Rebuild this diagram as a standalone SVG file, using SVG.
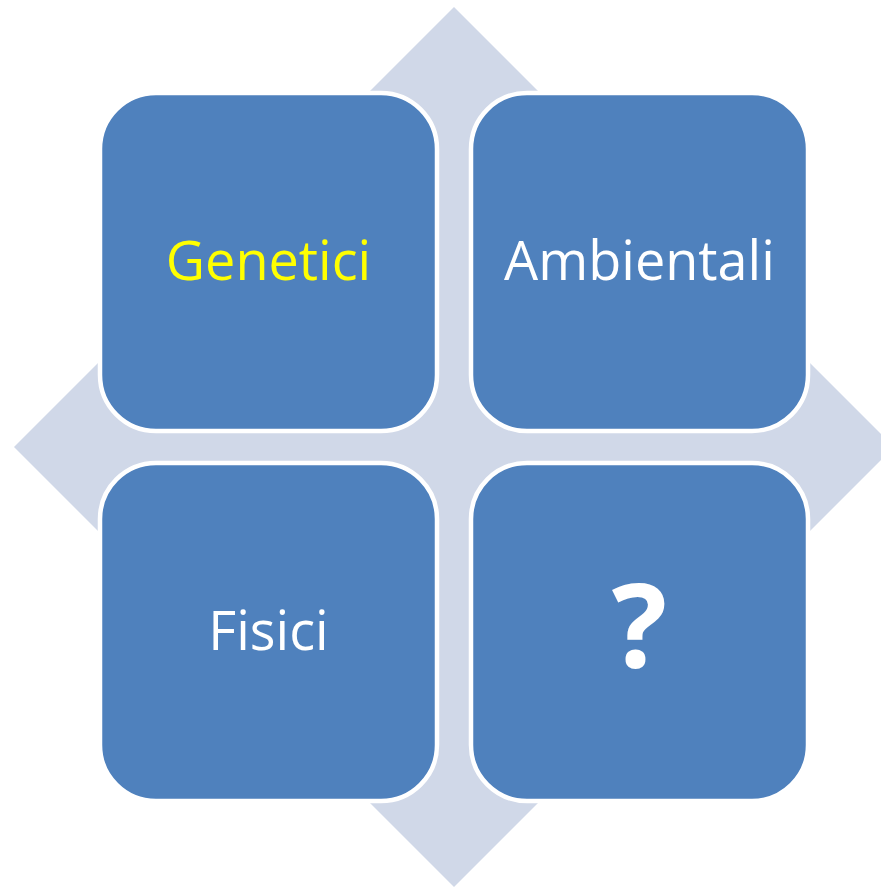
<svg xmlns="http://www.w3.org/2000/svg" width="881" height="887" viewBox="0 0 881 887">
<style>
.box{fill:#4F81BD;stroke:#FFFFFF;stroke-width:4.5}
.lbl{font-family:"Open Sans","Noto Sans","DejaVu Sans",sans-serif;font-size:54px;fill:#FFFFFF;text-anchor:middle}
</style>
<rect width="881" height="887" fill="#FFFFFF"/>
<g id="background">
<polygon points="454,7 894,447 454,887 14,447" fill="#D0D8E8"/>
</g>
<g id="connectors"></g>
<g id="node-genetici">
<rect class="box" x="100" y="93" width="337" height="338" rx="56" ry="56"/>
<text class="lbl" x="268.5" y="280" style="fill:#FFFF00">Genetici</text>
</g>
<g id="node-ambientali">
<rect class="box" x="471" y="93" width="337" height="338" rx="56" ry="56"/>
<text class="lbl" x="639.5" y="280">Ambientali</text>
</g>
<g id="node-fisici">
<rect class="box" x="100" y="463" width="337" height="338" rx="56" ry="56"/>
<text class="lbl" x="268.5" y="650">Fisici</text>
</g>
<g id="node-question">
<rect class="box" x="471" y="463" width="337" height="338" rx="56" ry="56"/>
<text class="lbl" x="639.5" y="667" style="font-size:116px;font-weight:bold">?</text>
</g>
</svg>
